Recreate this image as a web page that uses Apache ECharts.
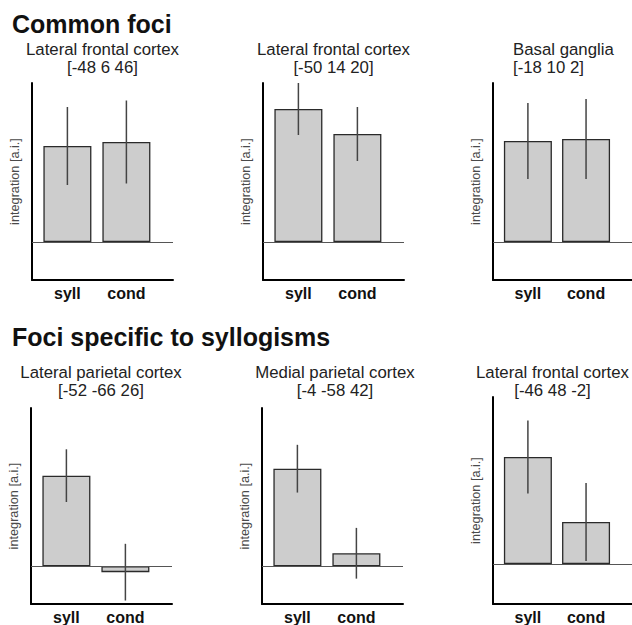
<!DOCTYPE html>
<html><head><meta charset="utf-8">
<script src="https://cdn.jsdelivr.net/npm/echarts@6/dist/echarts.min.js"></script>
<style>html,body{margin:0;padding:0;background:#fff}#c{width:632px;height:625px}</style>
</head><body><div id="c"></div>
<script>
// ---------- data ----------
const categories = ['syll', 'cond'];
const sectionTitles = ['Common foci', 'Foci specific to syllogisms'];
const regionNames = ['Lateral frontal cortex', 'Lateral frontal cortex', 'Basal ganglia',
                     'Lateral parietal cortex', 'Medial parietal cortex', 'Lateral frontal cortex'];
const coordLabels = ['[-48 6 46]', '[-50 14 20]', '[-18 10 2]',
                     '[-52 -66 26]', '[-4 -58 42]', '[-46 48 -2]'];
const syllValues = [0.96, 1.33, 1.01, 0.91, 0.98, 1.07];
const condValues = [1.00, 1.08, 1.03, -0.06, 0.13, 0.42];
const syllErrors = [0.39, 0.26, 0.38, 0.265, 0.24, 0.365];
const condErrors = [0.415, 0.27, 0.40, 0.285, 0.255, 0.39];
const yMins = [-0.38, -0.38, -0.38, -0.38, -0.38, -0.40];
const yMaxs = [1.59, 1.59, 1.59, 1.59, 1.59, 1.67];
const yAxisName = 'integration [a.i.]';

// ---------- layout ----------
const boxes = [
  {left: 32, top: 83, width: 141, height: 197},
  {left: 263, top: 83, width: 141, height: 197},
  {left: 493, top: 83, width: 141, height: 197},
  {left: 31, top: 408, width: 141, height: 197},
  {left: 262, top: 408, width: 141, height: 197},
  {left: 493, top: 397, width: 141, height: 207}
];
const titlePos = [
  {x: 102.5, y1: 49, y2: 67.5, align: 'center'},
  {x: 333.5, y1: 49, y2: 67.5, align: 'center'},
  {x: 513, y1: 49, y2: 67.5, align: 'left'},
  {x: 101, y1: 372.5, y2: 390.5, align: 'center'},
  {x: 335, y1: 372.5, y2: 390.5, align: 'center'},
  {x: 552.5, y1: 372.5, y2: 390.5, align: 'center'}
];
const FONT = '"Liberation Sans", Arial, Helvetica, sans-serif';

const grids = [], xAxes = [], yAxes = [], series = [], graphics = [];
boxes.forEach((b, i) => {
  grids.push({left: b.left, top: b.top, width: b.width, height: b.height, containLabel: false});
  xAxes.push({
    type: 'value', gridIndex: i, min: 0.4, max: 2.79,
    axisLine: {show: true, onZero: false, lineStyle: {color: '#000', width: 2}},
    axisTick: {show: false}, splitLine: {show: false},
    axisLabel: {
      customValues: [1, 2],
      formatter: v => categories[Math.round(v) - 1] || '',
      fontWeight: 'bold', fontSize: 16, color: '#111', margin: 5, fontFamily: FONT
    }
  });
  yAxes.push({
    type: 'value', gridIndex: i, min: yMins[i], max: yMaxs[i],
    axisLine: {show: true, onZero: false, lineStyle: {color: '#000', width: 2}},
    axisTick: {show: false}, splitLine: {show: false}, axisLabel: {show: false},
    name: yAxisName, nameLocation: 'middle', nameGap: 11,
    nameTextStyle: {fontSize: 12.7, color: '#4a4a4a', fontFamily: FONT}
  });
  series.push({
    type: 'bar', xAxisIndex: i, yAxisIndex: i, barWidth: 48, z: 2,
    data: [[1, syllValues[i]], [2, condValues[i]]],
    itemStyle: {color: '#cdcdcd', borderColor: '#2a2a2a', borderWidth: 1.3},
    markLine: {
      silent: true, symbol: ['none', 'none'], label: {show: false},
      lineStyle: {color: '#555', width: 1.2, type: 'solid'},
      data: [{yAxis: 0}]
    }
  });
  series.push({
    type: 'custom', xAxisIndex: i, yAxisIndex: i, z: 5,
    data: [[1, syllValues[i], syllErrors[i]], [2, condValues[i], condErrors[i]]],
    encode: {x: 0, y: 1},
    renderItem: (params, api) => {
      const x = api.value(0), v = api.value(1), e = api.value(2);
      const p1 = api.coord([x, v + e]), p2 = api.coord([x, v - e]);
      return {type: 'line', z2: 10, shape: {x1: p1[0], y1: p1[1], x2: p2[0], y2: p2[1]},
              style: {stroke: '#444', lineWidth: 1.5}};
    }
  });
  const t = titlePos[i];
  graphics.push({type: 'text', x: t.x, y: t.y1, silent: true,
    style: {text: regionNames[i], fill: '#222', font: '16.8px ' + FONT, textAlign: t.align, textVerticalAlign: 'middle'}});
  graphics.push({type: 'text', x: t.x, y: t.y2, silent: true,
    style: {text: coordLabels[i], fill: '#222', font: '16.8px ' + FONT, textAlign: t.align, textVerticalAlign: 'middle'}});
});
graphics.push({type: 'text', x: 12, y: 24, silent: true,
  style: {text: sectionTitles[0], fill: '#111', font: 'bold 25px ' + FONT, textAlign: 'left', textVerticalAlign: 'middle'}});
graphics.push({type: 'text', x: 12, y: 337, silent: true,
  style: {text: sectionTitles[1], fill: '#111', font: 'bold 25px ' + FONT, textAlign: 'left', textVerticalAlign: 'middle'}});

const chart = echarts.init(document.getElementById('c'), null, {renderer: 'svg'});
chart.setOption({
  animation: false,
  backgroundColor: '#fff',
  grid: grids, xAxis: xAxes, yAxis: yAxes, series: series, graphic: graphics
});
</script></body></html>
